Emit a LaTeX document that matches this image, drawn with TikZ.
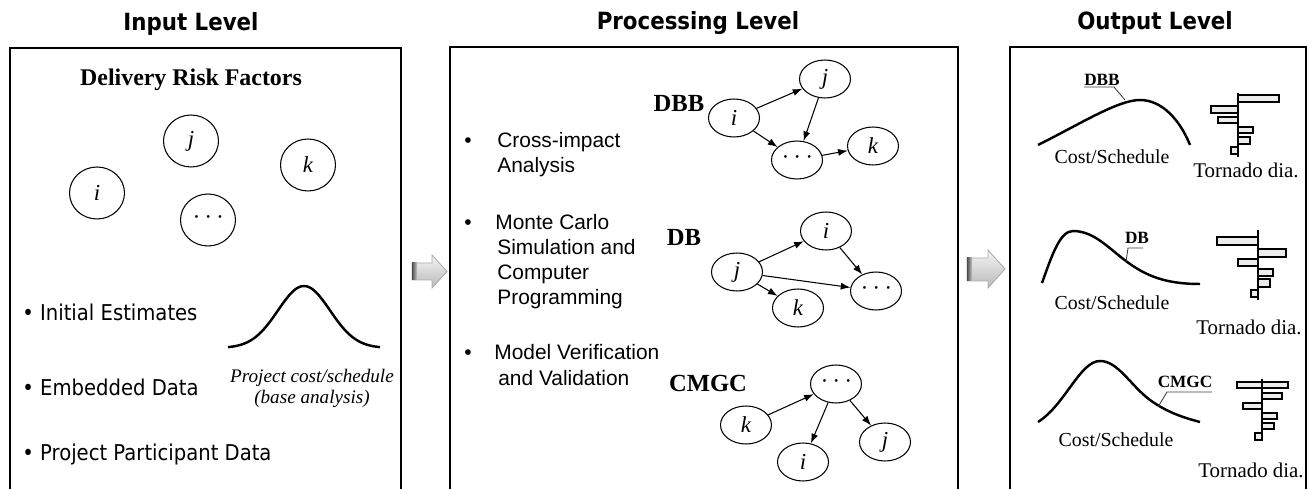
\documentclass[tikz,border=0pt]{standalone}
\usepackage{fontspec}
\setmainfont{Liberation Serif}
\newfontfamily\tahoma[FakeStretch=0.9]{DejaVu Sans}
\newfontfamily\arial{Liberation Sans}
\usetikzlibrary{arrows.meta,shapes.geometric}
\newcommand\ddd{\textperiodcentered\hspace{3.5pt}\textperiodcentered\hspace{3.5pt}\textperiodcentered}

\begin{document}
\begin{tikzpicture}[x=0.02cm,y=-0.02cm,
  frame/.style={line width=0.9pt},
  title/.style={font=\tahoma\bfseries\fontsize{13.5}{16}\selectfont},
  inbullet/.style={anchor=base west, inner sep=0pt, font=\tahoma\fontsize{12.4}{14}\selectfont},
  procline/.style={anchor=base west, inner sep=0pt, font=\arial\fontsize{11.9}{14}\selectfont},
  procdot/.style={anchor=base, inner sep=0pt, font=\arial\fontsize{11.9}{14}\selectfont},
  risk/.style={ellipse, draw, line width=0.6pt, minimum width=1.1cm, minimum height=1.04cm,
    inner sep=0pt, font=\itshape\fontsize{13}{15}\selectfont},
  fac/.style={ellipse, draw, line width=0.6pt, minimum width=1.02cm, minimum height=0.76cm,
    inner sep=0pt, font=\itshape\fontsize{13}{15}\selectfont},
  method/.style={font=\bfseries\fontsize{14}{16}\selectfont, inner sep=0pt},
  tag/.style={font=\bfseries\fontsize{9.8}{12}\selectfont, inner sep=0pt},
  leader/.style={line width=0.5pt, black!75},
  arr/.style={-{Latex[length=5.5pt,width=4pt]}, line width=0.6pt},
  curve/.style={line width=1.4pt},
  caption/.style={font=\fontsize{11.3}{13}\selectfont, inner sep=0pt},
  tornado/.style={font=\fontsize{11.9}{14}\selectfont, inner sep=0pt},
  bar/.style={draw, fill=gray!15, line width=0.7pt},
  axisline/.style={line width=0.9pt},
  bigarrow/.style={top color=gray!8, bottom color=gray!55, draw=gray!65, line width=0.5pt}
]
\useasboundingbox (0,0) rectangle (1309,489);

% ---------- level titles ----------
\node[title] (tin)  at (191,24) {Input Level};
\node[title] (tpr)  at (698,23) {Processing Level};
\node[title] (tout) at (1155,23) {Output Level};

% ---------- level frames (open at the bottom) ----------
\draw[frame] (10,495) -- (10,48) -- (401,48) -- (401,495);
\draw[frame] (450,495) -- (450,47) -- (958,47) -- (958,495);
\draw[frame] (1010,495) -- (1010,47) -- (1306,47) -- (1306,495);

% ---------- input level ----------
\node[font=\bfseries\fontsize{13.6}{16}\selectfont] (drf) at (191,80) {Delivery Risk Factors};
\node[risk] (rj) at (191,141) {j};
\node[risk] (rk) at (308,165) {k};
\node[risk] (ri) at (97,193) {i};
\node[risk] (rd) at (208,220) {\ddd};

\node[inbullet] (b1) at (22,321) {\textbullet{} Initial Estimates};
\node[inbullet] (b2) at (22,396) {\textbullet{} Embedded Data};
\node[inbullet] (b3) at (22,461) {\textbullet{} Project Participant Data};

\draw[curve] plot[domain=-76:76, samples=80, smooth] ({304+\x}, {348-62*exp(-0.5*(\x/26)^2)});
\node[font=\itshape\fontsize{10.9}{12}\selectfont, align=center, inner sep=0pt] (base) at (312,388)
  {Project cost/schedule\\(base analysis)};

% ---------- flow arrows between levels ----------
\shade[bigarrow] (412,263) -- (432,263) -- (432,255) -- (447,271.5) -- (432,288) -- (432,280) -- (412,280) -- cycle;
\shade[left color=black!70, right color=gray!45] (412,263) rectangle (417,280);
\shade[bigarrow] (967,258) -- (988,258) -- (988,250) -- (1005,269) -- (988,288) -- (988,281) -- (967,281) -- cycle;
\shade[left color=black!70, right color=gray!45] (967,258) rectangle (972,281);

% ---------- processing level: methods ----------
\node[procdot]  (p1) at (468,148) {\textbullet};
\node[procline] (p1a) at (497,148) {Cross-impact};
\node[procline] (p1b) at (497,173) {Analysis};
\node[procdot]  (p2) at (468,230) {\textbullet};
\node[procline] (p2a) at (495,230) {Monte Carlo};
\node[procline] (p2b) at (497,255) {Simulation and};
\node[procline] (p2c) at (497,280) {Computer};
\node[procline] (p2d) at (497,305) {Programming};
\node[procdot]  (p3) at (468,360) {\textbullet};
\node[procline] (p3a) at (494,360) {Model Verification};
\node[procline] (p3b) at (498,386) {and Validation};

% DBB network
\node[method] (mdbb) at (679,103) {DBB};
\node[fac] (ai) at (734,118) {i};
\node[fac] (aj) at (825,79) {j};
\node[fac] (ad) at (797,160) {\ddd};
\node[fac] (ak) at (873,146) {k};
\draw[arr] (ai) -- (aj);
\draw[arr] (aj) -- (ad);
\draw[arr] (ai) -- (ad);
\draw[arr] (ad) -- (ak);

% DB network
\node[method] (mdb) at (684,237) {DB};
\node[fac] (bi) at (826,231) {i};
\node[fac] (bj) at (737,272) {j};
\node[fac] (bk) at (798,308) {k};
\node[fac] (bd) at (876,291) {\ddd};
\draw[arr] (bj) -- (bi);
\draw[arr] (bi) -- (bd);
\draw[arr] (bj) -- (bd);
\draw[arr] (bj) -- (bk);

% CMGC network
\node[method] (mcm) at (708,383) {CMGC};
\node[fac] (cd) at (836,384) {\ddd};
\node[fac] (ck) at (746,425) {k};
\node[fac] (ci) at (803,462) {i};
\node[fac] (cj) at (885,442) {j};
\draw[arr] (ck) -- (cd);
\draw[arr] (cd) -- (ci);
\draw[arr] (cd) -- (cj);

% ---------- output level ----------
% DBB
\draw[curve] (1038,145) .. controls (1080,124) and (1118,100) .. (1140,100)
  .. controls (1162,100) and (1180,120) .. (1190,145);
\node[tag] (odbb) at (1102,80) {DBB};
\draw[leader] (1084,87) -- (1114,87) -- (1125,100);
\node[caption] (c1) at (1112,157) {Cost/Schedule};
\foreach \a/\b/\c/\d in {1238/1279/95/102, 1211/1238/106/113, 1218/1238/117/123,
                         1238/1253/127/133, 1238/1250/137/144, 1231/1238/147/154}
  \draw[bar] (\a,\c) rectangle (\b,\d);
\draw[axisline] (1238,93) -- (1238,157);
\node[tornado] (t1) at (1246,170) {Tornado dia.};

% DB
\draw[curve] (1042,283) .. controls (1052,255) and (1060,231) .. (1073,231)
  .. controls (1095,231) and (1110,250) .. (1130,264)
  .. controls (1150,278) and (1170,284) .. (1200,284);
\node[tag] (odb) at (1137,238) {DB};
\draw[leader] (1143,248) -- (1128,248) -- (1126,262);
\node[caption] (c2) at (1112,303) {Cost/Schedule};
\foreach \a/\b/\c/\d in {1217/1258/237/245, 1258/1286/249/257, 1238/1258/259/266,
                         1258/1273/269/276, 1258/1270/279/287, 1251/1258/290/297}
  \draw[bar] (\a,\c) rectangle (\b,\d);
\draw[axisline] (1258,230) -- (1258,300);
\node[tornado] (t2) at (1249,327) {Tornado dia.};

% CMGC
\draw[curve] (1038,422) .. controls (1065,405) and (1080,361) .. (1100,361)
  .. controls (1118,361) and (1130,385) .. (1150,400)
  .. controls (1168,413) and (1185,418) .. (1200,422);
\node[tag] (ocm) at (1185,382) {CMGC};
\draw[leader] (1212,392) -- (1167,392) -- (1158,407);
\node[caption] (c3) at (1116,440) {Cost/Schedule};
\foreach \a/\b/\c/\d in {1237/1288/382/388, 1262/1282/393/399, 1243/1262/403/409,
                         1262/1277/413/419, 1262/1274/423/429, 1255/1262/433/440}
  \draw[bar] (\a,\c) rectangle (\b,\d);
\draw[axisline] (1262,379) -- (1262,441);
\node[tornado] (t3) at (1251,470) {Tornado dia.};
\end{tikzpicture}
\end{document}
